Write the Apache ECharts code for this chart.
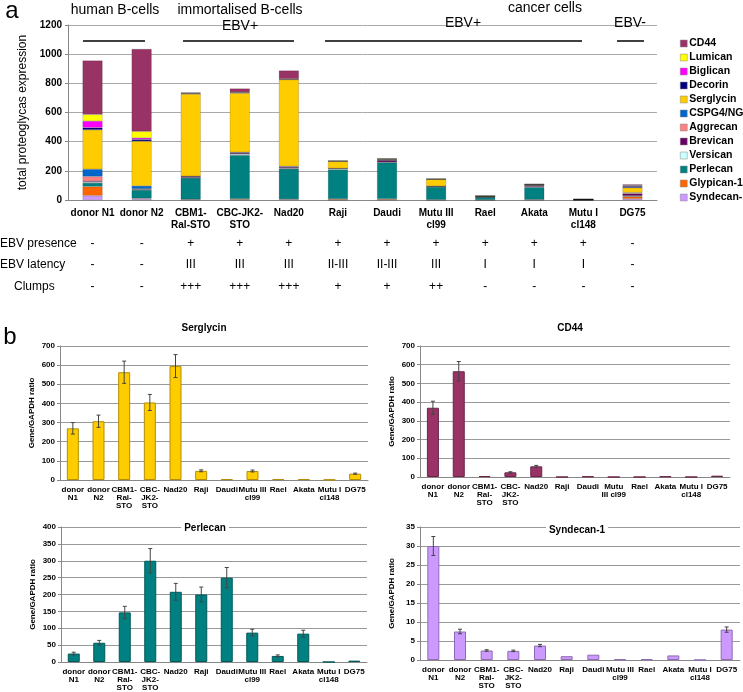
<!DOCTYPE html>
<html>
<head>
<meta charset="utf-8">
<script src="https://cdn.jsdelivr.net/npm/echarts@6/dist/echarts.min.js"></script>
<style>
  html, body { margin: 0; padding: 0; background: #fff; }
  #main { width: 743px; height: 692px; }
</style>
</head>
<body>
<div id="main"></div>
<script>
var FONT = 'Liberation Sans, Arial, sans-serif';

// cell lines
var categories = ['donor N1', 'donor N2', 'CBM1-\nRal-STO', 'CBC-JK2-\nSTO', 'Nad20', 'Raji', 'Daudi', 'Mutu III\ncl99', 'Rael', 'Akata', 'Mutu I\ncl148', 'DG75'];
var categoriesB = ['donor\nN1', 'donor\nN2', 'CBM1-\nRal-\nSTO', 'CBC-\nJK2-\nSTO', 'Nad20', 'Raji', 'Daudi', 'Mutu III\ncl99', 'Rael', 'Akata', 'Mutu I\ncl148', 'DG75'];
var categoriesCd44 = ['donor\nN1', 'donor\nN2', 'CBM1-\nRal-\nSTO', 'CBC-\nJK2-\nSTO', 'Nad20', 'Raji', 'Daudi', 'Mutu\nIII cl99', 'Rael', 'Akata', 'Mutu I\ncl148', 'DG75'];

// proteoglycan expression (stack order bottom -> top)
var syndecan1 = [30, 7.5, 2.5, 2.4, 3.8, 1.0, 1.4, 0.2, 0.2, 1.2, 0, 8];
var glypican1 = [62, 4, 2, 5, 2, 6, 6, 2, 1, 2, 1, 15];
var perlecan  = [25, 57, 147, 300, 208, 200, 250, 87, 18, 84, 0, 4];
var versican  = [6, 3, 2, 8, 3, 6, 2, 2, 1, 4, 0.5, 2];
var brevican  = [6, 3, 8, 8, 8, 2, 12, 2, 1, 8, 1, 14];
var aggrecan  = [32, 2, 1, 3, 2, 1, 1, 1, 0.5, 1, 0.5, 6];
var cspg4     = [50, 20, 1, 1, 4, 1, 1, 1, 0.5, 1, 0, 2];
var serglycin = [270, 307, 563, 405, 595, 48, 5, 47, 5, 5, 2, 33];
var decorin   = [15, 12, 3, 3, 2, 1, 3, 1, 0, 1, 0, 10];
var biglican  = [45, 10, 1, 2, 1, 0, 0, 0, 0, 0, 0, 3];
var lumican   = [45, 45, 2, 2, 2, 3, 0, 1, 0, 0, 0, 3];
var cd44      = [370, 565, 5, 25, 57, 0, 3, 0, 0, 3, 0, 7];

// error bars for panel b
var serglycinErr = [30, 32, 58, 42, 60, 5, 1, 5, 1, 1, 0.5, 3];
var cd44Err      = [35, 52, 1, 3, 5, 0, 1, 0, 0, 1, 0, 1];
var perlecanErr  = [4, 7, 18, 36, 25, 22, 30, 10, 3, 10, 0, 1];
var syndecanErr  = [2.5, 0.6, 0.2, 0.2, 0.3, 0.1, 0.1, 0, 0, 0.1, 0, 0.7];

// table under panel a
var ebvPresence = ['-', '-', '+', '+', '+', '+', '+', '+', '+', '+', '+', '-'];
var ebvLatency  = ['-', '-', 'III', 'III', 'III', 'II-III', 'II-III', 'III', 'I', 'I', 'I', '-'];
var clumps      = ['-', '-', '+++', '+++', '+++', '+', '+', '++', '-', '-', '-', '-'];

var stackNames = ['Syndecan-1', 'Glypican-1', 'Perlecan', 'Versican', 'Brevican', 'Aggrecan', 'CSPG4/NG2', 'Serglycin', 'Decorin', 'Biglican', 'Lumican', 'CD44'];
var stackData = [syndecan1, glypican1, perlecan, versican, brevican, aggrecan, cspg4, serglycin, decorin, biglican, lumican, cd44];
var stackColors = ['#cc99ff', '#ff6600', '#008080', '#ccffff', '#660066', '#ff8080', '#0066cc', '#ffcc00', '#000080', '#ff00ff', '#ffff00', '#993366'];

var myChart = echarts.init(document.getElementById('main'));

var grids = [
    {left: 68, top: 25, width: 589, height: 175},
    {left: 68, top: 243, width: 589, height: 1},
    {left: 68, top: 264, width: 589, height: 1},
    {left: 68, top: 286, width: 589, height: 1},
    {left: 60, top: 346, width: 308, height: 134},
    {left: 420, top: 346, width: 310, height: 131},
    {left: 61, top: 527, width: 306, height: 135},
    {left: 420, top: 527, width: 320, height: 133}
];

var xAxes = [];
var yAxes = [];

// panel a
xAxes.push({
    type: 'category', gridIndex: 0, data: categories,
    axisLine: {lineStyle: {color: '#888'}},
    axisTick: {length: 4, lineStyle: {color: '#888'}},
    axisLabel: {interval: 0, fontFamily: FONT, fontSize: 10, fontWeight: 'bold', color: '#000', lineHeight: 12, margin: 7}
});
yAxes.push({
    type: 'value', gridIndex: 0, min: 0, max: 1200, interval: 200,
    name: 'total proteoglycas expression', nameLocation: 'middle', nameGap: 33,
    nameTextStyle: {fontFamily: FONT, fontSize: 12, color: '#000'},
    axisLine: {show: true, lineStyle: {color: '#888'}},
    axisTick: {show: true, length: 3, lineStyle: {color: '#888'}},
    axisLabel: {fontFamily: FONT, fontSize: 10, fontWeight: 'bold', color: '#000', margin: 6,
        formatter: function (v) { return String(v); }},
    splitLine: {lineStyle: {color: '#aaa'}}
});

// table rows as label-only axes
[ebvPresence, ebvLatency, clumps].forEach(function (row, k) {
    xAxes.push({
        type: 'category', gridIndex: k + 1, data: row,
        axisLine: {show: false}, axisTick: {show: false},
        axisLabel: {interval: 0, fontFamily: FONT, fontSize: 12, color: '#000', margin: 0, verticalAlign: 'middle'}
    });
    yAxes.push({type: 'value', gridIndex: k + 1, show: false, min: 0, max: 1});
});

// panel b axes
var bAxes = [
    {labels: categoriesB, max: 700, interval: 100},
    {labels: categoriesCd44, max: 700, interval: 100},
    {labels: categoriesB, max: 400, interval: 50},
    {labels: categoriesB, max: 35, interval: 5}
];
bAxes.forEach(function (ax, k) {
    xAxes.push({
        type: 'category', gridIndex: k + 4, data: ax.labels,
        axisLine: {lineStyle: {color: '#888'}},
        axisTick: {length: 3, lineStyle: {color: '#888'}},
        axisLabel: {interval: 0, fontFamily: FONT, fontSize: 8, fontWeight: 'bold', color: '#000', lineHeight: 8, margin: 6}
    });
    yAxes.push({
        type: 'value', gridIndex: k + 4, min: 0, max: ax.max, interval: ax.interval,
        name: 'Gene/GAPDH ratio', nameLocation: 'middle', nameGap: 24,
        nameTextStyle: {fontFamily: FONT, fontSize: 8, fontWeight: 'bold', color: '#000'},
        axisLine: {show: true, lineStyle: {color: '#888'}},
        axisTick: {show: true, length: 3, lineStyle: {color: '#888'}},
        axisLabel: {fontFamily: FONT, fontSize: 8, fontWeight: 'bold', color: '#000', margin: 5},
        splitLine: {lineStyle: {color: '#999'}}
    });
});

var series = [];
stackNames.forEach(function (name, i) {
    series.push({
        name: name, type: 'bar', stack: 'pg', xAxisIndex: 0, yAxisIndex: 0,
        barWidth: 20, data: stackData[i],
        itemStyle: {color: stackColors[i], borderColor: 'rgba(0,0,0,0.3)', borderWidth: 0.5}
    });
});

function errorBars(values, errs, idx) {
    return {
        type: 'custom', xAxisIndex: idx, yAxisIndex: idx, z: 5,
        data: values.map(function (v, i) { return [i, v - errs[i], v + errs[i]]; }),
        renderItem: function (params, api) {
            var lo = api.coord([api.value(0), api.value(1)]);
            var hi = api.coord([api.value(0), api.value(2)]);
            if (Math.abs(lo[1] - hi[1]) < 1) return null;
            var st = {stroke: '#444', lineWidth: 1};
            var cap = 2;
            return {type: 'group', children: [
                {type: 'line', shape: {x1: lo[0], y1: lo[1], x2: hi[0], y2: hi[1]}, style: st},
                {type: 'line', shape: {x1: lo[0] - cap, y1: lo[1], x2: lo[0] + cap, y2: lo[1]}, style: st},
                {type: 'line', shape: {x1: hi[0] - cap, y1: hi[1], x2: hi[0] + cap, y2: hi[1]}, style: st}
            ]};
        }
    };
}

var bSeries = [
    {data: serglycin, err: serglycinErr, color: '#ffcc00', border: '#b38f00'},
    {data: cd44, err: cd44Err, color: '#993366', border: '#6b2447'},
    {data: perlecan, err: perlecanErr, color: '#008080', border: '#005959'},
    {data: syndecan1, err: syndecanErr, color: '#cc99ff', border: '#8f6bb3'}
];
bSeries.forEach(function (s, k) {
    series.push({
        type: 'bar', xAxisIndex: k + 4, yAxisIndex: k + 4, barWidth: 12, data: s.data,
        itemStyle: {color: s.color, borderColor: s.border, borderWidth: 1}
    });
    series.push(errorBars(s.data, s.err, k + 4));
});

function txt(x, y, text, font, align, bg) {
    var st = {text: text, font: font, fill: '#000', align: align || 'center', verticalAlign: 'middle'};
    if (bg) { st.backgroundColor = '#fff'; st.padding = [1, 3]; }
    return {type: 'text', x: x, y: y, z: 50, style: st};
}
function hline(x1, x2, y) {
    return {type: 'line', shape: {x1: x1, y1: y, x2: x2, y2: y}, style: {stroke: '#000', lineWidth: 1.5}};
}

var big = '24px ' + FONT;
var head = '14px ' + FONT;
var rowFont = '12px ' + FONT;
var titleFont = 'bold 10px ' + FONT;

var option = {
    animation: false,
    grid: grids,
    xAxis: xAxes,
    yAxis: yAxes,
    legend: {
        data: stackNames.slice().reverse(),
        orient: 'vertical', left: 680, top: 38, padding: 0,
        itemWidth: 7, itemHeight: 7, itemGap: 3, icon: 'rect', selectedMode: false,
        itemStyle: {borderColor: '#888', borderWidth: 0.5},
        textStyle: {fontFamily: FONT, fontSize: 10.5, fontWeight: 'bold', color: '#000', lineHeight: 10, padding: [0, 0, 0, -3]}
    },
    graphic: [
        txt(12, 11, 'a', big),
        txt(10, 337, 'b', big),
        txt(115, 10, 'human B-cells', head),
        txt(240, 10, 'immortalised B-cells', head),
        txt(240, 26, 'EBV+', head),
        txt(545, 8, 'cancer cells', head),
        txt(463, 23, 'EBV+', head),
        txt(630, 23, 'EBV-', head),
        hline(83, 145, 41),
        hline(183, 294, 41),
        hline(325, 582, 41),
        hline(617, 644, 41),
        txt(0, 244, 'EBV presence', rowFont, 'left'),
        txt(0, 265, 'EBV latency', rowFont, 'left'),
        txt(14, 287, 'Clumps', rowFont, 'left'),
        txt(204, 328, 'Serglycin', titleFont),
        txt(570, 328, 'CD44', titleFont),
        txt(205, 528, 'Perlecan', titleFont, 'center', true),
        txt(577, 530, 'Syndecan-1', titleFont, 'center', true)
    ],
    series: series
};

myChart.setOption(option);
</script>
</body>
</html>
